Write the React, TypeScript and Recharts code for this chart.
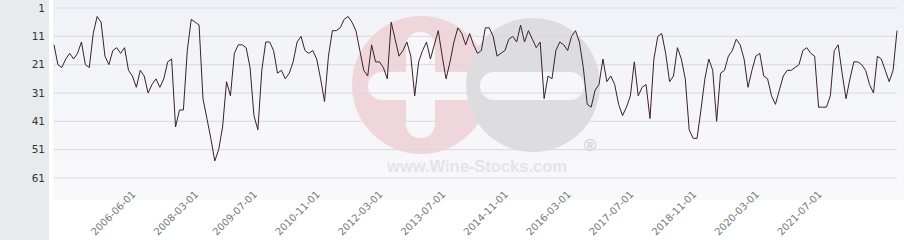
import React from "react";
import { LineChart, Line, XAxis, YAxis, CartesianGrid } from "recharts";

document.body.style.margin = "0";

// rank per sale, read left to right
const ranks = [
  14, 21, 22, 19, 17, 19, 17, 13, 21, 22,
  10, 4, 6, 18, 21, 16, 15, 17, 15, 23,
  25, 29, 23, 25, 31, 28, 26, 29, 26, 20,
  19, 43, 37, 37, 16, 5, 6, 7, 33, 40,
  47, 55, 51, 43, 27, 32, 17, 14, 14, 15,
  22, 39, 44, 23, 13, 13, 16, 24, 23, 26,
  24, 20, 13, 11, 16, 17, 16, 19, 26, 34,
  18, 9, 9, 8, 5, 4, 6, 9, 16, 23,
  25, 14, 20, 20, 22, 26, 6, 12, 18, 16,
  13, 18, 32, 20, 16, 13, 19, 14, 9, 18,
  26, 20, 13, 8, 10, 14, 10, 14, 17, 16,
  8, 8, 11, 18, 17, 16, 12, 11, 13, 7,
  13, 9, 12, 15, 13, 33, 25, 26, 16, 13,
  14, 16, 11, 9, 13, 22, 35, 36, 30, 28,
  19, 27, 25, 28, 35, 39, 36, 32, 20, 32,
  29, 28, 40, 19, 11, 10, 17, 27, 25, 15,
  19, 26, 44, 47, 47, 37, 26, 19, 23, 41,
  24, 23, 18, 16, 12, 14, 19, 29, 23, 18,
  17, 25, 26, 32, 35, 30, 25, 23, 23, 22,
  21, 16, 15, 17, 18, 36, 36, 36, 32, 16,
  14, 24, 33, 26, 20, 20, 21, 23, 28, 31,
  18, 19, 23, 27, 23, 9,
];

const rankTicks = [1, 11, 21, 31, 41, 51, 61];
const dateTickIndex = [21, 37, 52, 68, 84, 100, 116, 132, 148, 164, 180, 196];
const dateTickLabels = [
  "2006-06-01", "2008-03-01", "2009-07-01", "2010-11-01", "2012-03-01", "2013-07-01",
  "2014-11-01", "2016-03-01", "2017-07-01", "2018-11-01", "2020-03-01", "2021-07-01",
];

const data = ranks.map((rank, i) => ({ i, rank }));

const DateTick = ({ x, y, payload }: any) => {
  const label = dateTickLabels[dateTickIndex.indexOf(payload.value)];
  const ty = y + 17;
  return (
    <text
      x={x}
      y={ty}
      transform={`rotate(-45 ${x} ${ty})`}
      textAnchor="end"
      fontSize={10}
      fontFamily="DejaVu Sans"
      fill="#777"
    >
      {label}
    </text>
  );
};

const Watermark = () => (
  <svg width={904} height={240} style={{ position: "absolute", left: 0, top: 0 }}>
    <circle cx={421} cy={85} r={69} fill="#efd6db" />
    <rect x={406} y={32} width={29} height={106} rx={14} fill="#f7f7fa" />
    <rect x={368} y={72} width={110} height={28} rx={14} fill="#f7f7fa" />
    <circle cx={533} cy={85} r={67} fill="#dddde0" />
    <rect x={480} y={72} width={104} height={28} rx={14} fill="#f7f7fa" />
    <text x={590} y={151} textAnchor="middle" fontSize={17} fontFamily="Liberation Sans" fontWeight="bold" fill="#d2d2d5">
      ®
    </text>
    <text x={477} y={172} textAnchor="middle" fontSize={16.5} fontFamily="Liberation Sans" fontWeight="bold" fill="#e4e4e7">
      www.Wine-Stocks.com
    </text>
  </svg>
);

export default function App() {
  return (
    <div style={{ position: "relative", width: 904, height: 240, background: "#fff", overflow: "hidden" }}>
      <div style={{ position: "absolute", left: 0, top: 0, width: 49, height: 240, background: "#e8ebee" }} />
      <div
        style={{
          position: "absolute",
          left: 53,
          top: 0,
          width: 851,
          height: 200,
          background: "linear-gradient(#f1f2f7, #f9f9fb)",
        }}
      />
      <Watermark />
      <div style={{ position: "absolute", left: 0, top: 0 }}>
        <LineChart width={904} height={240} data={data} margin={{ top: 8, right: 7, bottom: 0, left: 8 }}>
          <CartesianGrid vertical={false} stroke="#dadada" />
          <XAxis
            dataKey="i"
            type="number"
            domain={[0, ranks.length - 1]}
            ticks={dateTickIndex}
            interval={0}
            tick={<DateTick />}
            axisLine={false}
            tickLine={false}
            tickSize={0}
            tickMargin={0}
            height={62}
          />
          <YAxis
            type="number"
            reversed
            domain={[1, 61]}
            ticks={rankTicks}
            interval={0}
            axisLine={false}
            tickLine={false}
            tickSize={0}
            tickMargin={9}
            width={46}
            tick={{ fontSize: 10.5, fontFamily: "DejaVu Sans", fill: "#333" }}
          />
          <Line
            type="linear"
            dataKey="rank"
            stroke="#3b1f2c"
            strokeWidth={1}
            dot={false}
            isAnimationActive={false}
          />
        </LineChart>
      </div>
    </div>
  );
}
